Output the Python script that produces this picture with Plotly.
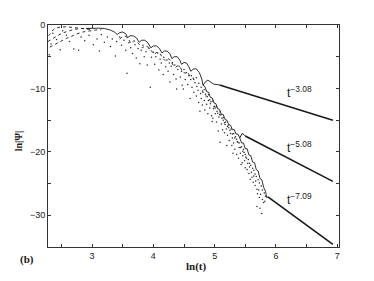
import plotly.graph_objects as go

# ---------------- data (ln t, ln|psi|) ----------------
# dotted arcs in the upper-left part
arcA_x = [2.29, 2.33, 2.37, 2.42, 2.50, 2.60, 2.72, 2.85, 2.97]
arcA_y = [-1.7, -1.1, -0.7, -0.45, -0.3, -0.3, -0.4, -0.55, -0.7]
arcB_x = [2.28, 2.36, 2.45, 2.52, 2.60, 2.70, 2.80, 2.92, 3.02]
arcB_y = [-2.6, -2.1, -1.6, -1.25, -0.95, -0.7, -0.55, -0.5, -0.55]
arcC_x = [2.31, 2.40, 2.50, 2.58, 2.66, 2.75, 2.85, 2.95, 3.05, 3.15]
arcC_y = [-3.5, -3.0, -2.5, -2.1, -1.8, -1.4, -1.1, -0.9, -0.8, -0.75]

# upper envelope (scalloped) leading into the t^-3.08 branch
env_x = [2.90, 3.00, 3.10, 3.20, 3.30, 3.37, 3.41, 3.45, 3.50, 3.55, 3.58,
         3.62, 3.67, 3.72, 3.77, 3.81, 3.86, 3.91, 3.96, 4.00, 4.05, 4.10,
         4.14, 4.18, 4.22, 4.27, 4.30, 4.34, 4.39, 4.43, 4.46, 4.50, 4.54,
         4.58, 4.61, 4.65, 4.70, 4.75, 4.79, 4.81, 4.85, 4.89, 4.93, 4.98, 5.08]
env_y = [-0.55, -0.5, -0.5, -0.55, -0.8, -1.15, -1.5, -1.2, -1.1, -1.4, -2.0,
         -1.7, -1.7, -2.0, -2.7, -2.4, -2.4, -2.8, -3.6, -3.3, -3.3, -3.7,
         -4.4, -4.1, -4.1, -4.5, -5.3, -5.0, -5.0, -5.5, -6.2, -5.9, -6.0,
         -6.6, -7.3, -6.95, -6.9, -7.5, -8.5, -9.5, -8.95, -8.7, -9.0, -9.3, -9.45]

# second (dotted) row of scallops just below the envelope
env2_x = [3.45, 3.50, 3.55, 3.60, 3.63, 3.68, 3.73, 3.78, 3.82, 3.87, 3.92, 3.97,
          4.01, 4.06, 4.11, 4.15, 4.19, 4.24, 4.28, 4.32, 4.36, 4.40, 4.44, 4.48,
          4.52, 4.56, 4.60]
env2_y = [-2.2, -1.8, -1.8, -2.3, -2.9, -2.5, -2.6, -3.2, -3.6, -3.3, -3.5, -4.1,
          -4.6, -4.3, -4.5, -5.2, -5.6, -5.3, -5.6, -6.3, -6.7, -6.4, -6.7, -7.4,
          -7.6, -7.4, -8.2]

# steep edge shared by the t^-5.08 and t^-7.09 branches
edge_x = [4.81, 4.84, 4.87, 4.90, 4.93, 4.96, 4.99, 5.02, 5.05, 5.08, 5.11,
          5.14, 5.17, 5.20, 5.23, 5.26, 5.29, 5.32, 5.35, 5.38, 5.41]
edge_y = [-9.5, -9.7, -10.5, -10.6, -11.4, -11.5, -12.3, -12.4, -13.2, -13.3, -14.1,
          -14.1, -14.9, -15.0, -15.7, -15.8, -16.5, -16.5, -17.2, -17.2, -17.8]
br2_x = [5.41, 5.43, 5.45, 5.48, 5.50]
br2_y = [-17.8, -17.3, -17.1, -17.3, -17.5]
br3_x = [5.41, 5.44, 5.47, 5.50, 5.53, 5.56, 5.59, 5.62, 5.65, 5.68, 5.71, 5.74,
         5.77, 5.80, 5.83, 5.85, 5.87]
br3_y = [-17.8, -18.6, -18.6, -19.5, -19.5, -20.5, -20.6, -21.6, -21.7, -22.8,
         -23.0, -24.2, -24.4, -25.6, -26.2, -27.2, -27.1]

# asymptotic power-law tails
tail1_x = [5.08, 6.93]
tail1_y = [-9.45, -15.0]
tail2_x = [5.50, 6.93]
tail2_y = [-17.5, -24.65]
tail3_x = [5.87, 6.93]
tail3_y = [-27.1, -34.6]

# scattered dots (sparse cloud)
dots = [
    (2.30, -4.7), (2.33, -3.0), (2.36, -1.3), (2.42, -2.3), (2.48, -3.9), (2.52, -0.9),
    (2.58, -1.6), (2.63, -2.6), (2.70, -3.8), (2.78, -4.0), (2.82, -1.9), (2.88, -2.5),
    (2.95, -1.6), (3.02, -3.1), (3.08, -2.2), (3.12, -4.1), (3.15, -1.5), (3.20, -2.7),
    (3.25, -1.9), (3.30, -3.4), (3.33, -2.2), (3.38, -4.9), (3.40, -2.6), (3.45, -1.9),
    (3.48, -3.2), (3.52, -2.4), (3.57, -7.6), (3.55, -4.0), (3.60, -2.8), (3.63, -3.6),
    (3.66, -4.5), (3.70, -3.1), (3.72, -5.2), (3.75, -3.7), (3.78, -6.1), (3.80, -4.0),
    (3.83, -3.2), (3.85, -5.0), (3.88, -4.2), (3.90, -6.3), (3.93, -3.7), (3.95, -9.8),
    (3.97, -5.1), (4.00, -4.3), (4.02, -6.2), (4.04, -5.0), (4.07, -4.4), (4.09, -7.1),
    (4.11, -5.4), (4.13, -6.0), (4.16, -7.8), (4.17, -5.1), (4.20, -6.6), (4.22, -5.5),
    (4.24, -7.3), (4.26, -6.0), (4.27, -9.0), (4.29, -6.5), (4.31, -5.9), (4.33, -7.8),
    (4.35, -6.3), (4.37, -8.5), (4.38, -10.1), (4.40, -7.0), (4.42, -6.5), (4.44, -8.2),
    (4.46, -7.3), (4.47, -9.5), (4.49, -10.1), (4.50, -7.0), (4.52, -8.6), (4.54, -7.5),
    (4.56, -9.4), (4.58, -8.0), (4.60, -11.6), (4.61, -8.6), (4.63, -9.8), (4.65, -8.4),
    (4.66, -10.6), (4.68, -9.1), (4.70, -11.2), (4.71, -9.7), (4.73, -10.3), (4.74, -12.2),
    (4.76, -13.6), (4.77, -10.8), (4.78, -11.6), (4.80, -12.6), (4.81, -10.6), (4.83, -11.9),
    (4.84, -13.4), (4.86, -11.2), (4.87, -12.5), (4.89, -14.0), (4.90, -11.9), (4.92, -13.1),
    (4.93, -12.4), (4.95, -14.3), (4.96, -15.2), (4.97, -14.7), (4.98, -13.2), (5.00, -12.8),
    (5.01, -14.0), (5.03, -15.3), (5.04, -13.6), (5.06, -16.7), (5.07, -14.5), (5.09, -18.5),
    (5.10, -14.2), (5.11, -15.6), (5.13, -16.5), (5.14, -15.0), (5.16, -17.0), (5.17, -15.7),
    (5.19, -16.4), (5.20, -19.0), (5.21, -17.4), (5.23, -16.2), (5.24, -18.2), (5.26, -17.1),
    (5.28, -19.0), (5.30, -20.2), (5.29, -17.8), (5.31, -18.6), (5.33, -19.6), (5.34, -17.6),
    (5.36, -20.4), (5.37, -18.4), (5.39, -21.0), (5.40, -19.3), (5.42, -20.2), (5.43, -22.0),
    (5.45, -21.7), (5.46, -20.6), (5.47, -19.6), (5.49, -21.4), (5.50, -22.5), (5.51, -20.8),
    (5.53, -22.8), (5.54, -21.8), (5.56, -23.4), (5.57, -22.4), (5.58, -24.3), (5.60, -23.2),
    (5.61, -24.0), (5.63, -24.8), (5.64, -23.8), (5.66, -25.3), (5.67, -24.6), (5.69, -25.9),
    (5.70, -26.6), (5.69, -28.6), (5.72, -26.0), (5.73, -27.2), (5.74, -28.9), (5.75, -26.7),
    (5.77, -29.7), (5.78, -27.5), (5.80, -28.0), (5.82, -27.8),
]
# dense band hugging the steep edge
band = [
    (4.62, -8.0), (4.66, -8.6), (4.70, -8.3), (4.74, -9.2), (4.78, -9.8), (4.80, -10.4),
    (4.83, -10.2), (4.85, -10.9), (4.88, -11.3), (4.90, -11.0), (4.92, -11.8), (4.94, -12.1),
    (4.97, -12.0), (4.99, -12.9), (5.01, -13.1), (5.03, -12.9), (5.05, -13.9), (5.08, -14.1),
    (5.09, -13.7), (5.12, -14.7), (5.14, -14.6), (5.16, -15.4), (5.18, -15.3), (5.21, -16.0),
    (5.22, -15.8), (5.25, -16.6), (5.27, -16.4), (5.29, -17.2), (5.31, -17.1), (5.33, -17.8),
    (5.36, -18.0), (5.38, -18.5), (5.40, -18.6), (5.42, -19.3), (5.44, -19.2), (5.46, -19.9),
    (5.48, -20.1), (5.50, -20.4), (5.52, -21.0), (5.55, -21.2), (5.57, -21.8), (5.59, -22.1),
    (5.62, -22.6), (5.64, -22.9), (5.66, -23.5), (5.68, -23.9), (5.71, -24.4), (5.73, -24.9),
    (5.76, -25.4), (5.78, -26.0), (5.81, -26.5), (5.83, -27.0),
]
dots_x = [p[0] for p in dots] + [p[0] for p in band]
dots_y = [p[1] for p in dots] + [p[1] for p in band]

x_tickvals = [3, 4, 5, 6, 7]
x_ticktext = ["3", "4", "5", "6", "7"]
y_tickvals = [0, -10, -20, -30]
y_ticktext = ["0", "\u221210", "\u221220", "\u221230"]

labels = [("t<sup>\u22123.08</sup>", 6.38, -10.6),
          ("t<sup>\u22125.08</sup>", 6.38, -19.3),
          ("t<sup>\u22127.09</sup>", 6.38, -27.4)]

# ---------------- figure ----------------
INK = "#1a1a1a"
fig = go.Figure()

def dotted(x, y, w=1.0):
    fig.add_trace(go.Scatter(x=x, y=y, mode="lines",
                             line=dict(color="#333", width=w, dash="dot"),
                             hoverinfo="skip", showlegend=False))

def solid(x, y, w=1.0):
    fig.add_trace(go.Scatter(x=x, y=y, mode="lines",
                             line=dict(color=INK, width=w),
                             hoverinfo="skip", showlegend=False))

dotted(arcA_x, arcA_y)
dotted(arcB_x, arcB_y)
dotted(arcC_x, arcC_y)
dotted(env2_x, env2_y)
fig.add_trace(go.Scatter(x=dots_x, y=dots_y, mode="markers",
                         marker=dict(color="#2a2a2a", size=1.5),
                         hoverinfo="skip", showlegend=False))
solid(env_x, env_y, 0.9)
solid(edge_x, edge_y, 0.9)
solid(br2_x, br2_y, 1.0)
solid(br3_x, br3_y, 0.9)
solid(tail1_x, tail1_y, 1.6)
solid(tail2_x, tail2_y, 1.6)
solid(tail3_x, tail3_y, 1.6)

for txt, lx, ly in labels:
    fig.add_annotation(x=lx, y=ly, xref="x", yref="y", text=txt, showarrow=False,
                       font=dict(family="Liberation Sans", size=12, color=INK))

axis_common = dict(showgrid=False, zeroline=False, showline=True, linecolor="#333",
                   linewidth=1, mirror="allticks", ticks="inside", ticklen=3,
                   tickcolor="#333", tickwidth=1,
                   tickfont=dict(family="Liberation Sans", size=9, color=INK))

fig.update_xaxes(range=[2.28, 7.03], tickvals=x_tickvals, ticktext=x_ticktext,
                 minor=dict(tick0=0, dtick=0.5, ticks="inside", ticklen=3,
                            tickcolor="#333", tickwidth=1, showgrid=False),
                 **axis_common)
fig.update_yaxes(range=[-35, 0], tickvals=y_tickvals, ticktext=y_ticktext,
                 minor=dict(tick0=0, dtick=5, ticks="inside", ticklen=3,
                            tickcolor="#333", tickwidth=1, showgrid=False),
                 **axis_common)

fig.add_annotation(x=0.51, y=-0.09, xref="paper", yref="paper", text="<b>ln(t)</b>",
                   showarrow=False, xanchor="center", yanchor="middle",
                   font=dict(family="Liberation Serif", size=11, color=INK))
fig.add_annotation(x=-0.1, y=0.48, xref="paper", yref="paper", text="<b>ln|\u03a8|</b>",
                   showarrow=False, textangle=-90, xanchor="center", yanchor="middle",
                   font=dict(family="Liberation Serif", size=10, color=INK))
fig.add_annotation(x=-0.072, y=-0.057, xref="paper", yref="paper", text="<b>(b)</b>",
                   showarrow=False, xanchor="center", yanchor="middle",
                   font=dict(family="Liberation Serif", size=11, color=INK))

# the page body adds an 8px margin, so the figure is 16px smaller than the window
fig.update_layout(width=358, height=265, margin=dict(l=40, r=27, t=13, b=24),
                  paper_bgcolor="white", plot_bgcolor="white")

fig.write_html("out.html")
